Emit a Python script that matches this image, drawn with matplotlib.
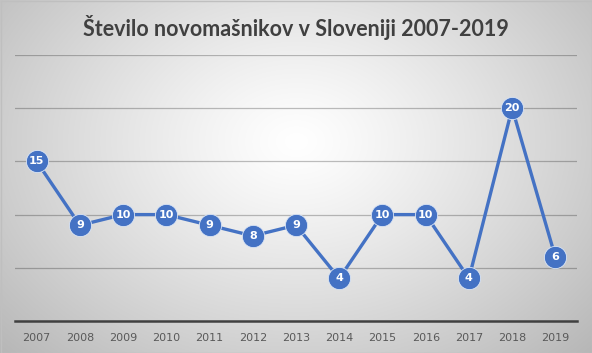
import numpy as np
import matplotlib
matplotlib.use("Agg")
import matplotlib.pyplot as plt

years = ["2007", "2008", "2009", "2010", "2011", "2012", "2013",
         "2014", "2015", "2016", "2017", "2018", "2019"]
values = [15, 9, 10, 10, 9, 8, 9, 4, 10, 10, 4, 20, 6]
title = "Število novomašnikov v Sloveniji 2007-2019"

W, H = 592, 353
fig = plt.figure(figsize=(W / 100, H / 100), dpi=100)

# radial gradient background
bg = fig.add_axes([0, 0, 1, 1], zorder=0)
yy, xx = np.mgrid[0:H, 0:W]
cx, cy = W * 0.5, H * 0.4
r = np.sqrt(((xx - cx) / (W * 0.6)) ** 2 + ((yy - cy) / (H * 0.75)) ** 2)
r = np.clip(r, 0, 1.2)
v = 1.0 - 0.24 * r ** 1.2
bg.imshow(np.dstack([v, v, v]), aspect="auto", extent=[0, W, H, 0])
bg.set_xlim(0, W); bg.set_ylim(H, 0)
bg.axis("off")
bg.add_patch(plt.Rectangle((0.5, 0.5), W - 1, H - 1, fill=False, edgecolor="#bfbfbf", lw=1))

ax = fig.add_axes([15 / W, 1 - 321 / H, 562 / W, 266 / H], zorder=1)
ax.patch.set_alpha(0)
x = np.arange(len(years))
ax.set_xlim(-0.5, len(years) - 0.5)
ax.set_ylim(0, 25)
ax.set_yticks([5, 10, 15, 20, 25])
ax.yaxis.grid(True, color="black", alpha=0.25, lw=0.9)
ax.set_axisbelow(True)
for s in ["left", "right", "top"]:
    ax.spines[s].set_visible(False)
ax.spines["bottom"].set_color("#404040")
ax.spines["bottom"].set_linewidth(1.8)
ax.tick_params(axis="y", left=False, labelleft=False)
ax.tick_params(axis="x", bottom=False, labelsize=8, labelcolor="#595959", pad=5)
ax.set_xticks(x)
ax.set_xticklabels(years)

ax.plot(x, values, color="#4472C4", lw=2.4, marker="o", markersize=16,
        markerfacecolor="#4472C4", markeredgecolor="#dce6f5", markeredgewidth=0.6, zorder=3)
for xi, vi in zip(x, values):
    ax.text(xi, vi, str(vi), ha="center", va="center", color="white",
            fontsize=8, fontweight="bold", zorder=4)

fig.text(0.5, 1 - 28 / H, title, ha="center", va="center", fontsize=15.5,
         fontweight="bold", color="#404040", family="Lato")

fig.savefig("out.png", dpi=100)
